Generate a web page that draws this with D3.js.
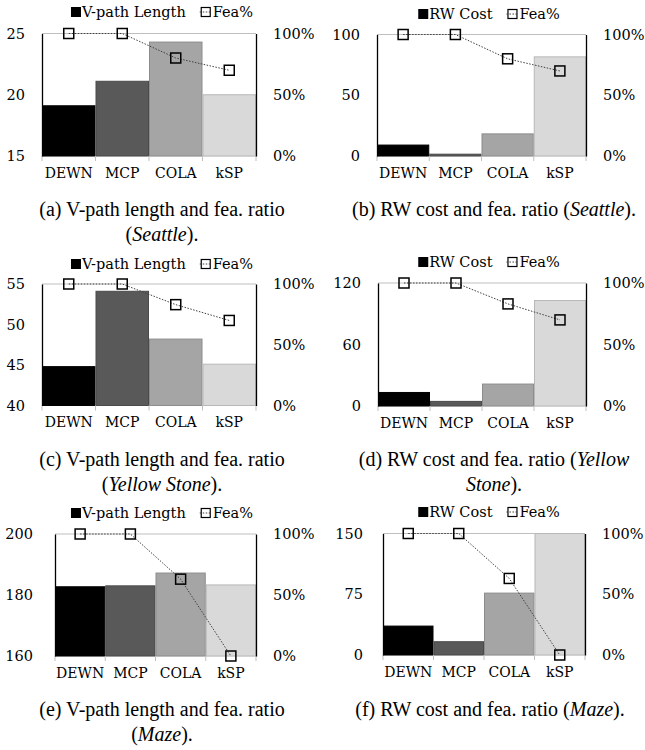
<!DOCTYPE html>
<html>
<head>
<meta charset="utf-8">
<script src="https://cdn.jsdelivr.net/npm/d3@7/dist/d3.min.js"></script>
<style>
  body { margin: 0; background: #fff; }
  text { fill: #000; }
</style>
</head>
<body>
<svg id="chart" width="645" height="750"></svg>
<script>
// ---- data ----
const methods = ["DEWN", "MCP", "COLA", "kSP"];

const lenSeattle  = [19.1, 21.1, 24.3, 20.0];
const costSeattle = [9.0, 1.5, 18.2, 81.6];
const feaSeattle  = [100, 100, 80, 70];

const lenYellow  = [44.8, 54.1, 48.2, 45.1];
const costYellow = [13.2, 4.5, 21.4, 102.9];
const feaYellow  = [100, 100, 83, 70];

const lenMaze  = [182.7, 183.0, 187.2, 183.3];
const costMaze = [35.7, 16.4, 76.4, 150];
const feaMaze  = [100, 100, 63, 0];

const ticksLenSeattle  = [15, 20, 25];
const ticksCostSeattle = [0, 50, 100];
const ticksLenYellow   = [40, 45, 50, 55];
const ticksCostYellow  = [0, 60, 120];
const ticksLenMaze     = [160, 180, 200];
const ticksCostMaze    = [0, 75, 150];
const ticksFea         = [0, 50, 100];

// ---- style ----
const barFill   = ["#000000", "#595959", "#a5a5a5", "#d9d9d9"];
const barStroke = ["#000000", "#4a4a4a", "#8c8c8c", "#b8b8b8"];
const tickFont  = "'DejaVu Serif', serif";
const capFont   = "'Liberation Serif', serif";

// panel layout: plot box [left, right, top, bottom]
const panels = [
  {bars: lenSeattle, fea: feaSeattle, ticks: ticksLenSeattle, legend: "V-path Length",
   box: [42, 256, 33.5, 156], cx: 162, legendY: 12, labelGap: 17,
   caption: [[["(a) V-path length and fea. ratio", false]], [["(", false], ["Seattle", true], [").", false]]],
   capY: 216, capX: 162},
  {bars: costSeattle, fea: feaSeattle, ticks: ticksCostSeattle, legend: "RW Cost",
   box: [377, 586, 34.5, 156], cx: 489, legendY: 14, labelGap: 17,
   caption: [[["(b) RW cost and fea. ratio (", false], ["Seattle", true], [").", false]]],
   capY: 216, capX: 494},
  {bars: lenYellow, fea: feaYellow, ticks: ticksLenYellow, legend: "V-path Length",
   box: [42, 256, 284, 405.5], cx: 162, legendY: 264, labelGap: 17,
   caption: [[["(c) V-path length and fea. ratio", false]], [["(", false], ["Yellow Stone", true], [").", false]]],
   capY: 466, capX: 162},
  {bars: costYellow, fea: feaYellow, ticks: ticksCostYellow, legend: "RW Cost",
   box: [378, 586, 283, 406], cx: 489, legendY: 262, labelGap: 17,
   caption: [[["(d) RW cost and fea. ratio (", false], ["Yellow", true]], [["Stone", true], [").", false]]],
   capY: 466, capX: 494},
  {bars: lenMaze, fea: feaMaze, ticks: ticksLenMaze, legend: "V-path Length",
   box: [55, 256, 534, 656], cx: 162, legendY: 513, labelGap: 22,
   caption: [[["(e) V-path length and fea. ratio", false]], [["(", false], ["Maze", true], [").", false]]],
   capY: 716, capX: 162},
  {bars: costMaze, fea: feaMaze, ticks: ticksCostMaze, legend: "RW Cost",
   box: [383, 585, 533.5, 655], cx: 489, legendY: 512, labelGap: 20,
   caption: [[["(f) RW cost and fea. ratio (", false], ["Maze", true], [").", false]]],
   capY: 716, capX: 490}
];

const svg = d3.select("#chart");

panels.forEach(p => drawPanel(svg.append("g"), p));

function drawPanel(g, p) {
  const [left, right, top, bottom] = p.box;
  const ticks = p.ticks;

  const x = d3.scaleBand().domain(methods).range([left, right]).padding(0);
  const y = d3.scaleLinear().domain([ticks[0], ticks[ticks.length - 1]]).range([bottom, top]);
  const yFea = d3.scaleLinear().domain([0, 100]).range([bottom, top]);

  // top border (gray) and bottom baseline
  g.append("line")
    .attr("x1", left).attr("x2", right)
    .attr("y1", top).attr("y2", top)
    .attr("stroke", "#bfbfbf").attr("stroke-width", 1);
  g.append("line")
    .attr("x1", left).attr("x2", right)
    .attr("y1", bottom).attr("y2", bottom)
    .attr("stroke", "#d9d9d9").attr("stroke-width", 1);

  // bars
  g.selectAll(".bar")
    .data(p.bars)
    .join("rect")
    .attr("class", "bar")
    .attr("x", (d, i) => x(methods[i]) + 0.5)
    .attr("width", x.bandwidth() - 1)
    .attr("y", d => y(d))
    .attr("height", d => bottom - y(d))
    .attr("fill", (d, i) => barFill[i])
    .attr("stroke", (d, i) => barStroke[i])
    .attr("stroke-width", 1);

  // category boundary ticks
  const edges = methods.map(m => x(m)).concat([right]);
  g.selectAll(".edge")
    .data(edges)
    .join("line")
    .attr("x1", d => d).attr("x2", d => d)
    .attr("y1", bottom).attr("y2", bottom + 5)
    .attr("stroke", "#bfbfbf").attr("stroke-width", 1);

  // left axis
  const yAxis = g.append("g")
    .attr("transform", "translate(" + left + ",0)")
    .call(d3.axisLeft(y).tickValues(ticks).tickSize(0).tickSizeOuter(0).tickPadding(p.labelGap));
  yAxis.select(".domain").attr("stroke", "#000").attr("stroke-width", 1.3);
  yAxis.selectAll("text").attr("font-family", tickFont).attr("font-size", 14.5).attr("fill", "#000");

  // right axis
  const rAxis = g.append("g")
    .attr("transform", "translate(" + right + ",0)")
    .call(d3.axisRight(yFea).tickValues(ticksFea).tickSize(0).tickSizeOuter(0)
      .tickPadding(17).tickFormat(d => d + "%"));
  rAxis.select(".domain").attr("stroke", "#000").attr("stroke-width", 1.3);
  rAxis.selectAll("text").attr("font-family", tickFont).attr("font-size", 14.5).attr("fill", "#000");

  // bottom labels
  const xAxis = g.append("g")
    .attr("transform", "translate(0," + bottom + ")")
    .call(d3.axisBottom(x).tickSize(0).tickPadding(12));
  xAxis.select(".domain").remove();
  xAxis.selectAll("text").attr("font-family", tickFont).attr("font-size", 14).attr("fill", "#000");

  // fea% line
  const line = d3.line()
    .x((d, i) => x(methods[i]) + x.bandwidth() / 2)
    .y(d => yFea(d));
  g.append("path")
    .datum(p.fea)
    .attr("d", line)
    .attr("fill", "none")
    .attr("stroke", "#404040")
    .attr("stroke-width", 1)
    .attr("stroke-dasharray", "1.5,1.5");

  g.selectAll(".mark")
    .data(p.fea)
    .join("rect")
    .attr("class", "mark")
    .attr("x", (d, i) => x(methods[i]) + x.bandwidth() / 2 - 5)
    .attr("y", d => yFea(d) - 5)
    .attr("width", 10).attr("height", 10)
    .attr("fill", "none")
    .attr("stroke", "#000")
    .attr("stroke-width", 1.5);

  // legend
  const leg = g.append("g");
  const sq = leg.append("rect")
    .attr("width", 10).attr("height", 10)
    .attr("fill", "#000");
  const t1 = leg.append("text")
    .attr("font-family", tickFont).attr("font-size", 14.5)
    .attr("dy", "0.35em")
    .text(p.legend);
  const w1 = t1.node().getComputedTextLength();
  const icon = leg.append("g");
  icon.append("rect")
    .attr("x", -4.5).attr("y", -4.5).attr("width", 9).attr("height", 9)
    .attr("fill", "none").attr("stroke", "#000").attr("stroke-width", 1.2);
  icon.append("line")
    .attr("x1", -6).attr("x2", 6).attr("y1", 0).attr("y2", 0)
    .attr("stroke", "#404040").attr("stroke-dasharray", "1.5,1.5");
  const t2 = leg.append("text")
    .attr("font-family", tickFont).attr("font-size", 14.5)
    .attr("dy", "0.35em")
    .text("Fea%");
  const w2 = t2.node().getComputedTextLength();

  const total = 10 + 1 + w1 + 14 + 12 + 1 + w2;
  let cx = p.cx - total / 2;
  sq.attr("x", cx).attr("y", p.legendY - 5);
  cx += 11;
  t1.attr("x", cx).attr("y", p.legendY);
  cx += w1 + 14;
  icon.attr("transform", "translate(" + (cx + 6) + "," + p.legendY + ")");
  cx += 13;
  t2.attr("x", cx).attr("y", p.legendY);

  // caption
  p.caption.forEach((parts, li) => {
    const t = g.append("text")
      .attr("x", p.capX)
      .attr("y", p.capY + li * 25)
      .attr("text-anchor", "middle")
      .attr("font-family", capFont)
      .attr("font-size", 20);
    parts.forEach(([s, it]) => {
      t.append("tspan").attr("font-style", it ? "italic" : "normal").text(s);
    });
  });
}
</script>
</body>
</html>
